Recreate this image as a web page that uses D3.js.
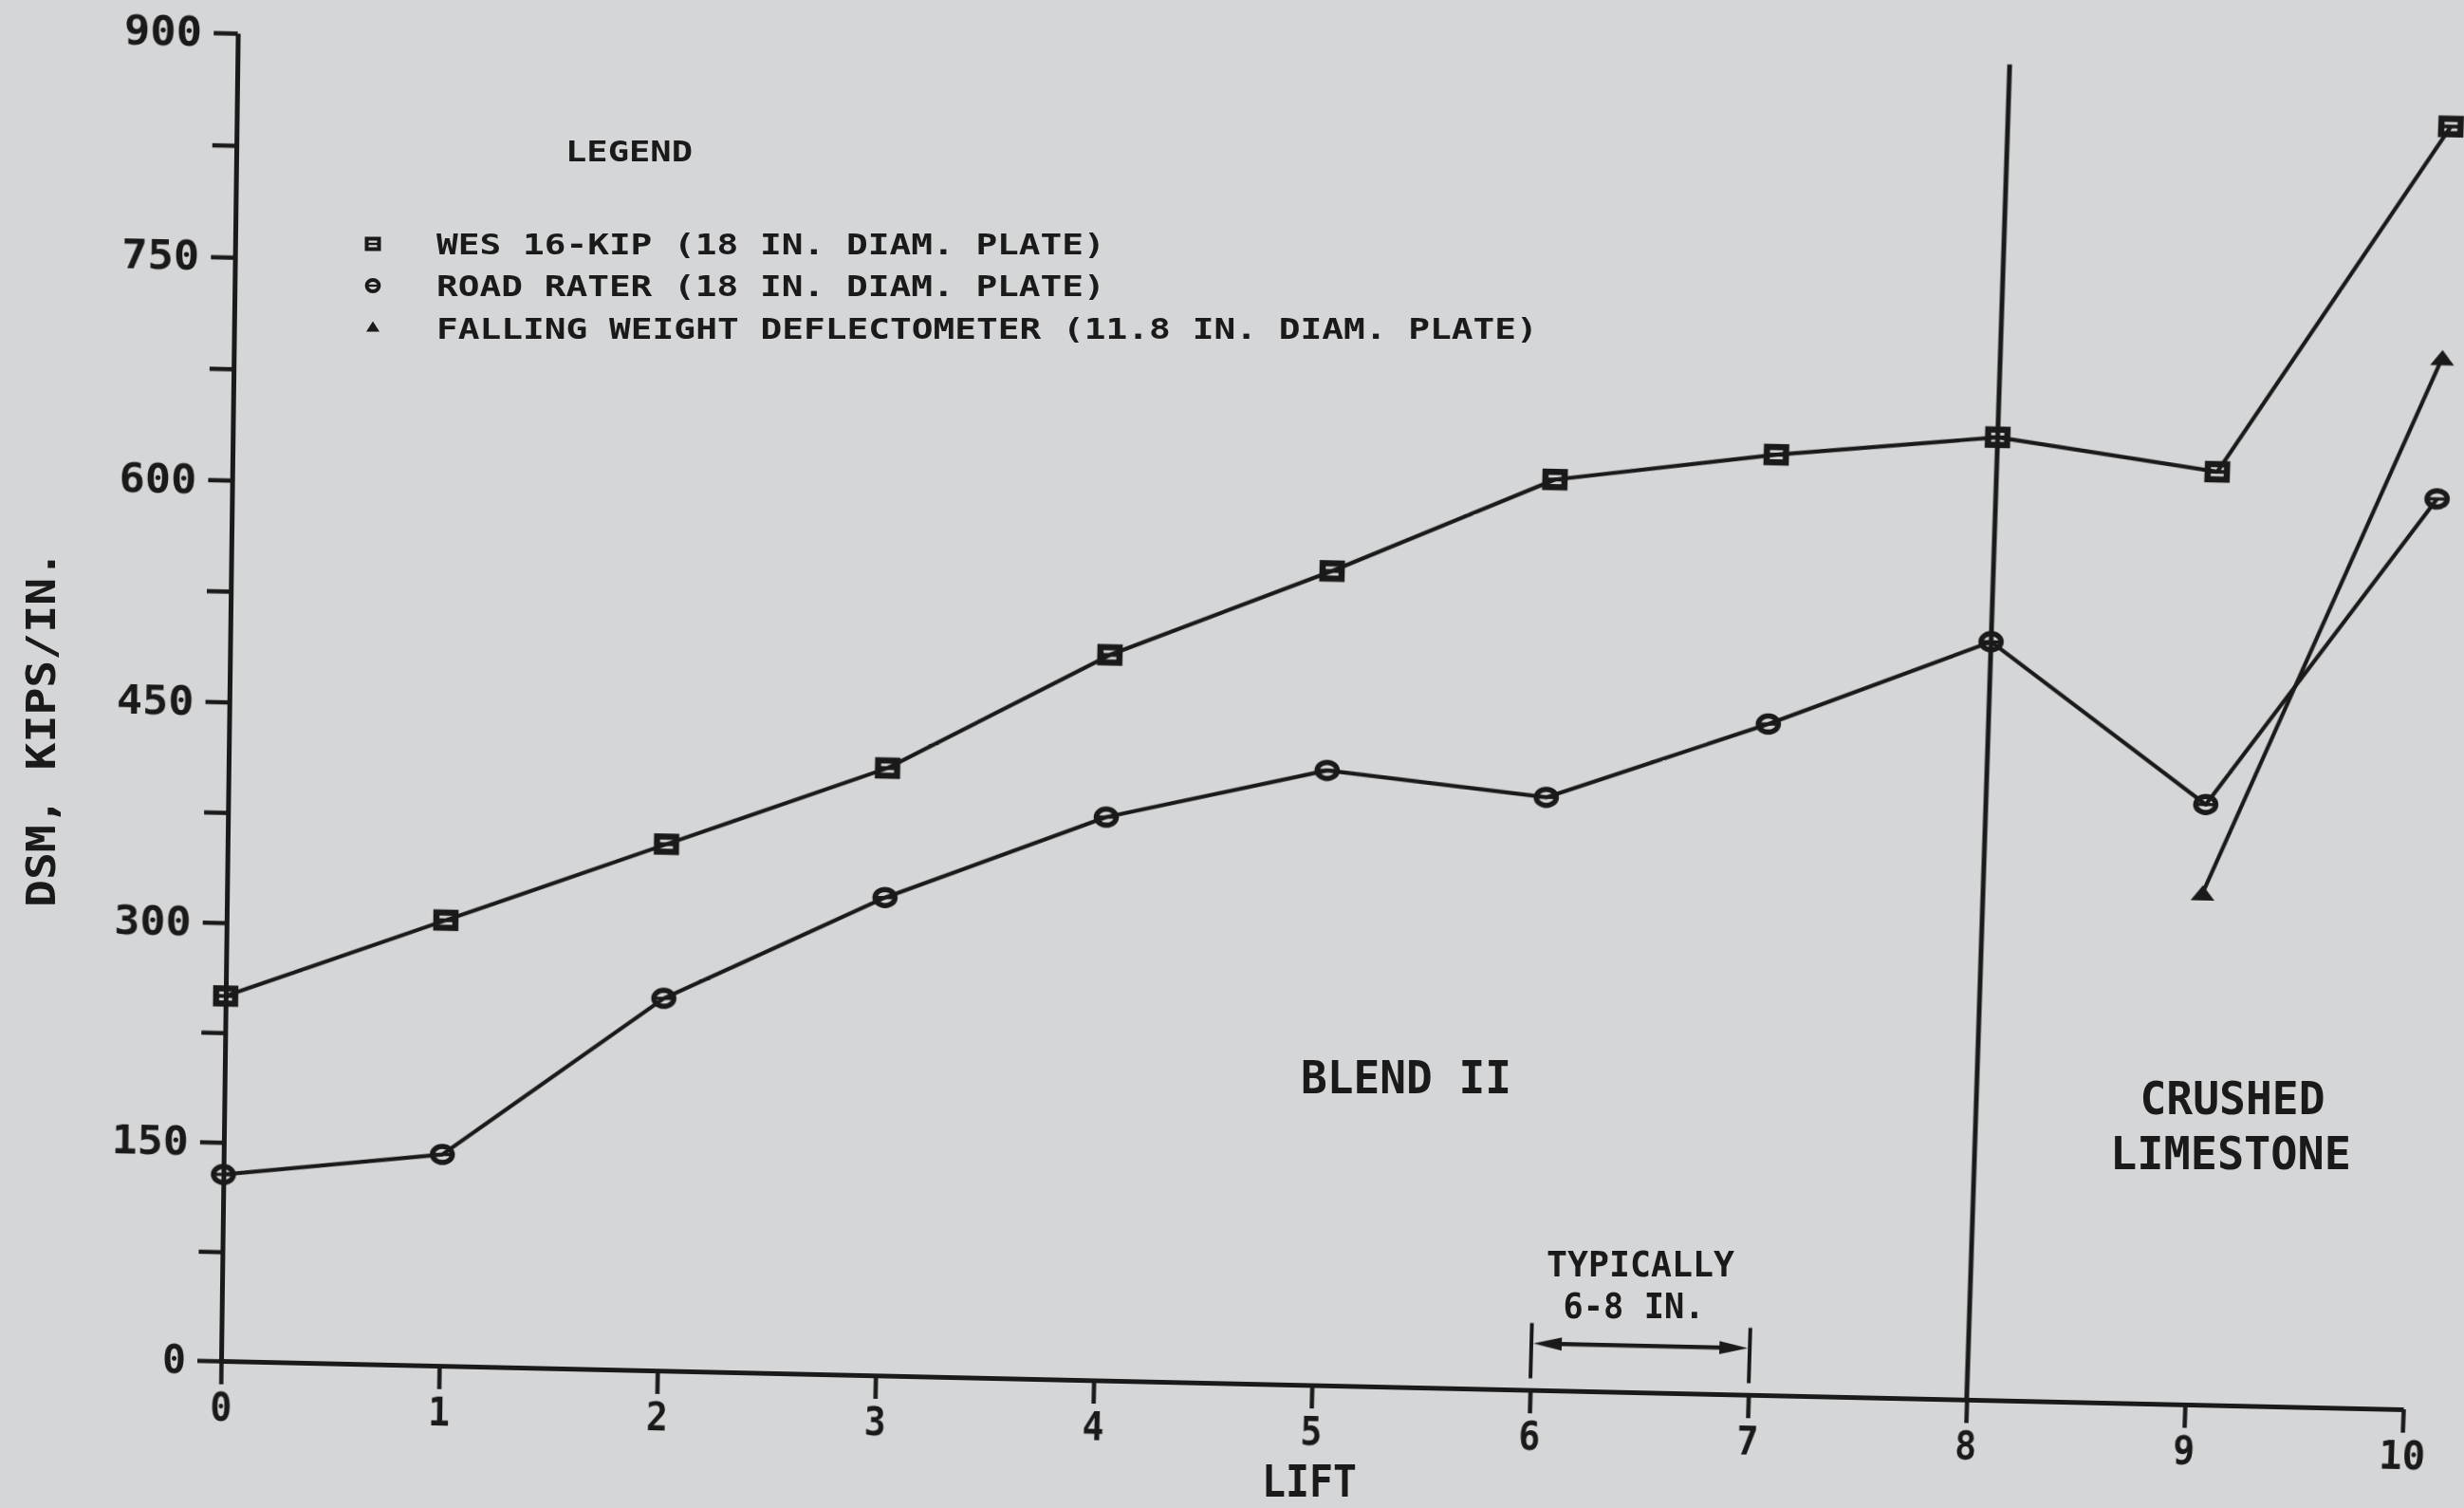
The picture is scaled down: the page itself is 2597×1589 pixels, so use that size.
<!DOCTYPE html>
<html>
<head>
<meta charset="utf-8">
<script src="https://cdn.jsdelivr.net/npm/d3@7"></script>
<style>
  html, body { margin: 0; padding: 0; background: #d5d6d8; overflow: hidden; }
  #stage { position: relative; width: 2597px; height: 1589px; }
  #stage svg { position: absolute; left: 0; top: 0; overflow: visible; }
  #plot { transform-origin: 0 0; }
  .num { font-family: "DejaVu Sans Mono", monospace; font-weight: bold; }
  .mono { font-family: "DejaVu Sans Mono", monospace; font-weight: bold; }
</style>
</head>
<body>
<div id="stage"></div>
<script>
// ---- data -------------------------------------------------------------
const lifts = d3.range(0, 11);
const wes16Kip  = [250, 305, 360, 415, 495, 555, 620, 640, 655, 635, 870];
const roadRater = [128, 145, 255, 327, 385, 420, 405, 458, 517, 410, 620];
const fwdLifts  = [9, 10];
const fallingWeight = [350, 715];

const yTickValues = d3.range(0, 901, 75);   // minor + major ticks
const yLabelStep = 150;                     // only every 150 is labelled
const xTickValues = d3.range(0, 11);

const legendTitle = "LEGEND";
const legendLabels = [
  "WES 16-KIP (18 IN. DIAM. PLATE)",
  "ROAD RATER (18 IN. DIAM. PLATE)",
  "FALLING WEIGHT DEFLECTOMETER (11.8 IN. DIAM. PLATE)"
];
const xTitle = "LIFT";
const yTitle = "DSM, KIPS/IN.";
const regionLeft = ["BLEND II"];
const regionRight = ["CRUSHED", "LIMESTONE"];
const spanNote = ["TYPICALLY", "6-8 IN."];

const dividerLift = 8;          // boundary between the two base materials
const dividerRange = [0, 905];
const spanLifts = [6, 7];       // one lift, typically 6-8 in.
const spanBar = [8, 46];
const spanArrowAt = 32;

// ---- layout -----------------------------------------------------------
const W = 2597, H = 1589;
const ink = "#1a1a1a";
const x = d3.scaleLinear().domain([0, 10]).range([233, 2533]);
const y = d3.scaleLinear().domain([0, 900]).range([1434, 35]);

const stage = d3.select("#stage");
const plot = stage.append("svg").attr("id", "plot").attr("width", W).attr("height", H);
const notes = stage.append("svg").attr("id", "notes").attr("width", W).attr("height", H);

// The printed sheet is not perfectly flat: map the plot frame onto its
// slightly keystoned outline with a projective transform.
function homography(src, dst) {
  const A = [], b = [];
  for (let i = 0; i < 4; i++) {
    const [sx, sy] = src[i], [dx, dy] = dst[i];
    A.push([sx, sy, 1, 0, 0, 0, -sx * dx, -sy * dx]); b.push(dx);
    A.push([0, 0, 0, sx, sy, 1, -sx * dy, -sy * dy]); b.push(dy);
  }
  const n = 8;
  for (let c = 0; c < n; c++) {
    let p = c;
    for (let r = c + 1; r < n; r++) if (Math.abs(A[r][c]) > Math.abs(A[p][c])) p = r;
    [A[c], A[p]] = [A[p], A[c]]; [b[c], b[p]] = [b[p], b[c]];
    for (let r = 0; r < n; r++) {
      if (r === c) continue;
      const f = A[r][c] / A[c][c];
      for (let k = c; k < n; k++) A[r][k] -= f * A[c][k];
      b[r] -= f * b[c];
    }
  }
  return b.map((v, i) => v / A[i][i]);
}
const frameSrc = [[233, 1434], [2533, 1434], [2533, 35], [233, 35]];
const frameDst = [[233, 1434], [2533, 1485], [2585, 86], [250.6, 35]];
const hm = homography(frameSrc, frameDst);
plot.style("transform",
  `matrix3d(${hm[0]},${hm[3]},0,${hm[6]},${hm[1]},${hm[4]},0,${hm[7]},0,0,1,0,${hm[2]},${hm[5]},0,1)`);

// ---- axes -------------------------------------------------------------
const xAxis = d3.axisBottom(x).tickValues(xTickValues).tickSize(25).tickSizeOuter(0).tickPadding(8);
const yAxis = d3.axisLeft(y).tickValues(yTickValues).tickSize(25).tickSizeOuter(0).tickPadding(12)
  .tickFormat(d => d % yLabelStep === 0 ? String(d) : "");

const gx = plot.append("g").attr("transform", `translate(0,${y(0)})`).call(xAxis);
const gy = plot.append("g").attr("transform", `translate(${x(0)},0)`).call(yAxis);
[gx, gy].forEach(g => {
  g.attr("color", ink).attr("font-size", null).attr("font-family", null);
  g.select(".domain").attr("stroke-width", 5);
  g.selectAll(".tick line").attr("stroke-width", 4.5);
  g.selectAll(".tick text").attr("class", "num").attr("font-size", 43)
    .attr("lengthAdjust", "spacingAndGlyphs");
});
gx.selectAll(".tick text").attr("textLength", d => String(d).length * 26 - 3);
gy.selectAll(".tick text").each(function (d) {
  const s = d % yLabelStep === 0 ? String(d) : "";
  if (s) d3.select(this).attr("textLength", s.length * 28 - 3);
});

// ---- divider between Blend II and crushed limestone ---------------------
plot.append("line")
  .attr("x1", x(dividerLift)).attr("x2", x(dividerLift))
  .attr("y1", y(dividerRange[0])).attr("y2", y(dividerRange[1]))
  .attr("stroke", ink).attr("stroke-width", 5);

// ---- series lines -----------------------------------------------------
const line = d3.line().x(d => x(d[0])).y(d => y(d[1]));
const wesPts = lifts.map((l, i) => [l, wes16Kip[i]]);
const rrPts = lifts.map((l, i) => [l, roadRater[i]]);
const fwdPts = fwdLifts.map((l, i) => [l, fallingWeight[i]]);
[wesPts, rrPts, fwdPts].forEach(pts => {
  plot.append("path").attr("d", line(pts)).attr("fill", "none")
    .attr("stroke", ink).attr("stroke-width", 4.2).attr("stroke-linejoin", "round");
});

// ---- markers ----------------------------------------------------------
function squareMark(g, w, h, sw) {
  g.append("rect").attr("x", -w / 2).attr("y", -h / 2).attr("width", w).attr("height", h)
    .attr("fill", "none").attr("stroke", ink).attr("stroke-width", sw);
  g.append("line").attr("x1", -w / 2).attr("x2", w / 2).attr("stroke", ink).attr("stroke-width", sw * 0.6);
}
function circleMark(g, rx, ry, sw) {
  g.append("ellipse").attr("rx", rx).attr("ry", ry)
    .attr("fill", "none").attr("stroke", ink).attr("stroke-width", sw);
  g.append("line").attr("x1", -rx).attr("x2", rx).attr("stroke", ink).attr("stroke-width", sw * 0.6);
}
function triangleMark(g, w, h) {
  g.append("path").attr("d", `M${-w / 2},${h / 2}L${w / 2},${h / 2}L0,${-h / 2}Z`).attr("fill", ink);
}
plot.selectAll("g.wes").data(wesPts).join("g").attr("class", "wes")
  .attr("transform", d => `translate(${x(d[0])},${y(d[1])})`)
  .each(function () { squareMark(d3.select(this), 20, 16, 6.5); });
plot.selectAll("g.rr").data(rrPts).join("g").attr("class", "rr")
  .attr("transform", d => `translate(${x(d[0])},${y(d[1])})`)
  .each(function () { circleMark(d3.select(this), 10.5, 8.5, 5.5); });
plot.selectAll("g.fwd").data(fwdPts).join("g").attr("class", "fwd")
  .attr("transform", d => `translate(${x(d[0])},${y(d[1])})`)
  .each(function () { triangleMark(d3.select(this), 25, 16); });

// ---- lift thickness dimension -------------------------------------------
spanLifts.forEach(l => {
  plot.append("line").attr("x1", x(l)).attr("x2", x(l))
    .attr("y1", y(spanBar[0])).attr("y2", y(spanBar[1]))
    .attr("stroke", ink).attr("stroke-width", 4);
});
const ay = y(spanArrowAt), ax0 = x(spanLifts[0]) + 2, ax1 = x(spanLifts[1]) - 2;
plot.append("line").attr("x1", ax0 + 20).attr("x2", ax1 - 20).attr("y1", ay).attr("y2", ay)
  .attr("stroke", ink).attr("stroke-width", 4.5);
plot.append("path").attr("d", `M${ax0},${ay}L${ax0 + 30},${ay - 7}L${ax0 + 30},${ay + 7}Z`).attr("fill", ink);
plot.append("path").attr("d", `M${ax1},${ay}L${ax1 - 30},${ay - 7}L${ax1 - 30},${ay + 7}Z`).attr("fill", ink);

// ---- flat text: legend, titles, region notes ---------------------------
function label(txt, px, py, size, len, anchor = "start") {
  return notes.append("text").attr("class", "mono").attr("x", px).attr("y", py)
    .attr("font-size", size).attr("fill", ink).attr("text-anchor", anchor)
    .attr("textLength", len).attr("lengthAdjust", "spacingAndGlyphs").text(txt);
}
label(legendTitle, 596, 170, 31, 134);
const legendRows = [257, 301, 346];
legendLabels.forEach((t, i) => label(t, 460, legendRows[i] + 11, 31, t.length * 22.8 - 2));
const ls0 = notes.append("g").attr("transform", `translate(393,${legendRows[0]})`);
squareMark(ls0, 13, 11, 4);
const ls1 = notes.append("g").attr("transform", `translate(393,${legendRows[1]})`);
circleMark(ls1, 6.5, 6, 3.8);
const ls2 = notes.append("g").attr("transform", `translate(393,${legendRows[2] - 2})`);
triangleMark(ls2, 14, 11);

label(regionLeft[0], 1371, 1152, 48, 222);
label(regionRight[0], 2353, 1174, 48, 195, "middle");
label(regionRight[1], 2351, 1232, 48, 254, "middle");
label(spanNote[0], 1729, 1345, 38, 198, "middle");
label(spanNote[1], 1722, 1389, 38, 149, "middle");
label(xTitle, 1380, 1577, 46, 100, "middle");
notes.append("text").attr("class", "mono")
  .attr("transform", "translate(58,768) rotate(-90)")
  .attr("font-size", 42).attr("fill", ink).attr("text-anchor", "middle")
  .attr("textLength", 376).attr("lengthAdjust", "spacingAndGlyphs").text(yTitle);
</script>
</body>
</html>
